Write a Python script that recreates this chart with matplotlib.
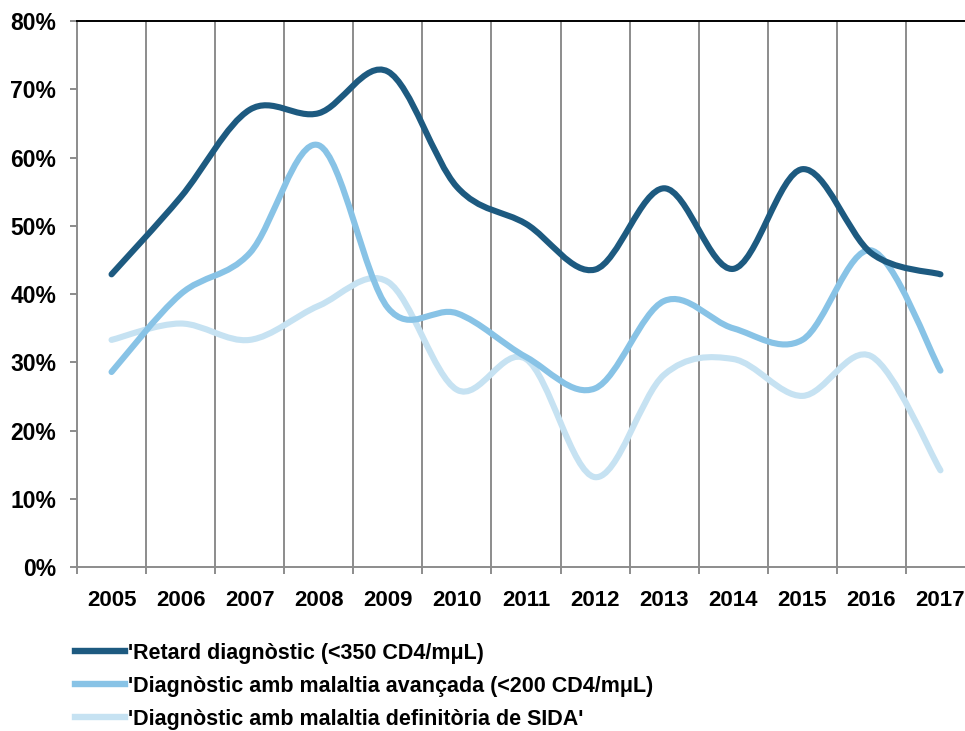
import numpy as np
import matplotlib.pyplot as plt
from matplotlib.path import Path
from matplotlib.patches import PathPatch
from matplotlib.lines import Line2D

plt.rcParams['font.family'] = ['Liberation Sans', 'DejaVu Sans']
plt.rcParams['font.weight'] = 'bold'

anys = ['2005', '2006', '2007', '2008', '2009', '2010', '2011',
        '2012', '2013', '2014', '2015', '2016', '2017']
retard = [42.9, 54.2, 67.0, 66.5, 72.6, 55.7, 50.3, 43.6, 55.5, 43.7, 58.3, 46.0, 42.9]
avancada = [28.6, 40.0, 46.0, 61.8, 38.0, 37.2, 30.8, 26.2, 39.0, 35.0, 33.3, 46.4, 28.8]
sida = [33.3, 35.7, 33.3, 38.3, 41.8, 26.0, 30.5, 13.2, 28.2, 30.5, 25.1, 30.9, 14.2]

noms = ["'Retard diagnòstic (<350 CD4/mμL)",
        "'Diagnòstic amb malaltia avançada (<200 CD4/mμL)",
        "'Diagnòstic amb malaltia definitòria de SIDA'"]
colors = ['#1d5a80', '#88c3e6', '#c6e2f2']


def corba_suau(x, y):
    '''Bezier tipus Excel (Catmull-Rom) que passa per tots els punts'''
    pts = np.column_stack([x, y]).astype(float)
    ext = np.vstack([pts[0], pts, pts[-1]])
    verts = [pts[0]]
    codes = [Path.MOVETO]
    for i in range(len(pts) - 1):
        p0, p1, p2, p3 = ext[i], ext[i + 1], ext[i + 2], ext[i + 3]
        verts += [p1 + (p2 - p0) / 6, p2 - (p3 - p1) / 6, p2]
        codes += [Path.CURVE4] * 3
    return Path(verts, codes)


fig = plt.figure(figsize=(9.65, 7.31), dpi=100)
ax = fig.add_axes([77 / 965, 1 - 567.3 / 731, (975 - 77) / 965, (567.3 - 21) / 731])

x = np.arange(len(anys))
for serie, c in zip([sida, avancada, retard], colors[::-1]):
    ax.add_patch(PathPatch(corba_suau(x, serie), fill=False, edgecolor=c,
                           lw=4.4, capstyle='round', joinstyle='round', zorder=3))

ax.set_xlim(-0.5, 12.5)
ax.set_ylim(0, 80)

for b in np.arange(0.5, 12, 1):
    ax.axvline(b, color='#8c8c8c', lw=1.4, zorder=1)

ax.set_xticks(np.arange(-0.5, 13, 1))
ax.set_xticklabels([])
ax.set_xticks(x, minor=True)
ax.set_xticklabels(anys, minor=True, fontsize=16, fontweight='bold')
ax.tick_params(axis='x', which='major', length=5, width=1.4, color='#8c8c8c')
ax.tick_params(axis='x', which='minor', length=0, pad=16)

ax.set_yticks(np.arange(0, 81, 10))
ax.set_yticklabels([f'{v}%' for v in range(0, 81, 10)], fontsize=16.5, fontweight='bold')
ax.tick_params(axis='y', length=5, width=1.4, color='#8c8c8c', pad=10)

for s in ['left', 'bottom']:
    ax.spines[s].set_color('#8c8c8c')
    ax.spines[s].set_linewidth(1.4)
ax.spines['top'].set_color('black')
ax.spines['top'].set_linewidth(1.4)
ax.spines['right'].set_visible(False)

handles = [Line2D([], [], color=c, lw=4.6) for c in colors]
fig.legend(handles, noms, loc='upper left', bbox_to_anchor=(75 / 965, 1 - 643 / 731),
           frameon=False, handlelength=2.32, handletextpad=0.15,
           labelspacing=0.55, borderpad=0, borderaxespad=0,
           prop={'weight': 'bold', 'size': 15.5})

fig.savefig('out.png', dpi=100)
